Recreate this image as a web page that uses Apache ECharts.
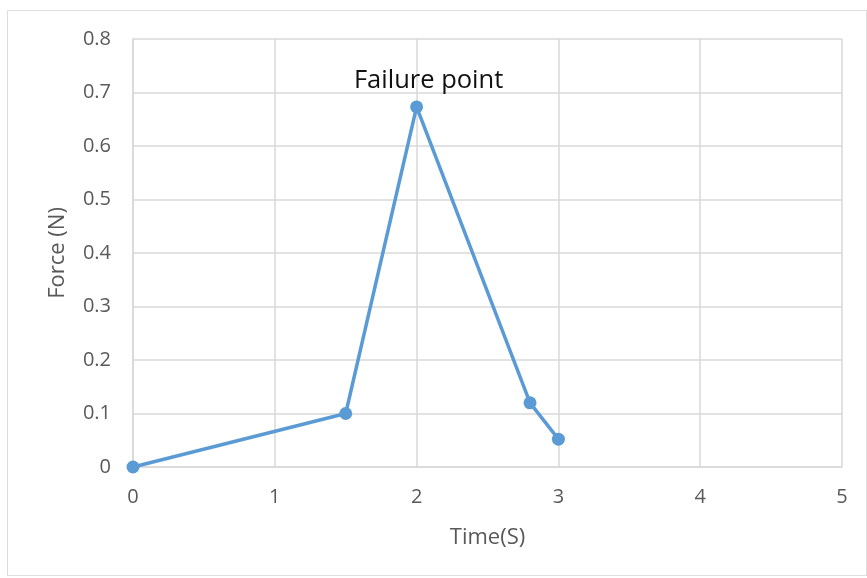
<!DOCTYPE html>
<html>
<head>
<meta charset="utf-8">
<script src="https://cdn.jsdelivr.net/npm/echarts@6/dist/echarts.min.js"></script>
<style>
html,body{margin:0;padding:0;background:#fff;}
#frame{position:absolute;left:7px;top:10px;width:860px;height:566px;border:1px solid #dedede;box-sizing:border-box;}
#c{position:absolute;left:0;top:0;width:867px;height:578px;}
</style>
</head>
<body>
<div id="frame"></div>
<div id="c"></div>
<script>
const timeValues = [0, 1.5, 2, 2.8, 3];
const forceValues = [0, 0.1, 0.673, 0.12, 0.052];
const peakLabel = 'Failure point';
const xName = 'Time(S)';
const yName = 'Force (N)';

const font = '"Open Sans", "Noto Sans", sans-serif';
const chart = echarts.init(document.getElementById('c'), null, {renderer: 'canvas'});
const peakIndex = forceValues.indexOf(Math.max(...forceValues));
const data = timeValues.map((t, i) => {
  const d = {value: [t, forceValues[i]]};
  if (i === peakIndex) {
    d.label = {show: true, formatter: peakLabel, position: 'top', offset: [12, -2],
      color: '#111', fontSize: 25.5, fontFamily: font};
  }
  return d;
});
chart.setOption({
  animation: false,
  grid: {left: 133, top: 39, right: 25, bottom: 111, containLabel: false},
  xAxis: {
    type: 'value', min: 0, max: 5, interval: 1,
    name: xName, nameLocation: 'middle', nameGap: 60,
    nameTextStyle: {color: '#595959', fontSize: 22, fontFamily: font},
    axisLine: {show: true, lineStyle: {color: '#d9d9d9', width: 1.5}},
    axisTick: {show: false},
    axisLabel: {color: '#595959', fontSize: 20, fontFamily: font, margin: 20},
    splitLine: {show: true, lineStyle: {color: '#d9d9d9', width: 1.5}}
  },
  yAxis: {
    type: 'value', min: 0, max: 0.8, interval: 0.1,
    name: yName, nameLocation: 'middle', nameGap: 64, nameRotate: 90,
    nameTextStyle: {color: '#595959', fontSize: 22, fontFamily: font},
    axisLine: {show: true, lineStyle: {color: '#d9d9d9', width: 1.5}},
    axisTick: {show: false},
    axisLabel: {color: '#595959', fontSize: 20, fontFamily: font, margin: 22,
      formatter: v => String(Math.round(v * 10) / 10)},
    splitLine: {show: true, lineStyle: {color: '#d9d9d9', width: 1.5}}
  },
  series: [{
    type: 'line', data: data,
    symbol: 'circle', symbolSize: 13,
    lineStyle: {color: '#5b9bd5', width: 3.5},
    itemStyle: {color: '#5b9bd5'},
    label: {show: false}
  }]
});
</script>
</body>
</html>
